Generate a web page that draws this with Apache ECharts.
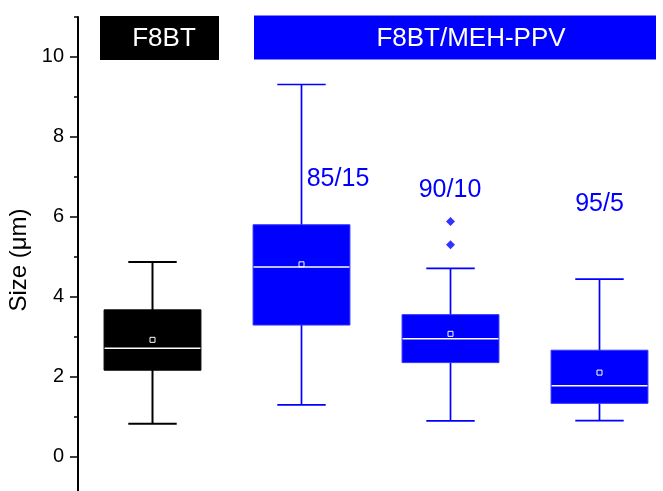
<!DOCTYPE html>
<html>
<head>
<meta charset="utf-8">
<script src="https://cdn.jsdelivr.net/npm/echarts@6/dist/echarts.min.js"></script>
<style>
  html, body { margin: 0; padding: 0; background: #fff; }
  #chart { width: 663px; height: 491px; }
</style>
</head>
<body>
<div id="chart"></div>
<script>
// Particle size distributions: neat F8BT and F8BT/MEH-PPV blends
const categories   = ['F8BT', '85/15', '90/10', '95/5'];
const whiskerLow   = [0.82, 1.29, 0.89, 0.90];
const quartile1    = [2.16, 3.29, 2.35, 1.33];
const medians      = [2.71, 4.74, 2.95, 1.77];
const quartile3    = [3.67, 5.80, 3.55, 2.66];
const whiskerHigh  = [4.87, 9.31, 4.71, 4.44];
const means        = [2.92, 4.81, 3.07, 2.10];
const outlierGroup = [2, 2];
const outlierValue = [5.88, 5.30];
const majorTicks   = [-2, 0, 2, 4, 6, 8, 10];
const minorTicks   = [-1, 1, 3, 5, 7, 9, 11];

const BLACK = '#000000';
const BLUE = '#0000ff';
const FONT = '"Liberation Sans", Arial, sans-serif';
const boxColors = [BLACK, BLUE, BLUE, BLUE];

const boxData = categories.map((c, i) => [
  i, whiskerLow[i], quartile1[i], medians[i], quartile3[i], whiskerHigh[i], means[i]
]);
const outlierData = outlierGroup.map((g, i) => [g, outlierValue[i]]);

function renderBox(params, api) {
  const idx = api.value(0);
  const color = boxColors[params.dataIndex];
  const band = api.size([1, 0])[0];
  const bw = band * 0.65;
  const cx = api.coord([idx, 0])[0];
  const py = v => api.coord([idx, v])[1];
  const yLow = py(api.value(1)), yQ1 = py(api.value(2)), yMed = py(api.value(3));
  const yQ3 = py(api.value(4)), yHigh = py(api.value(5)), yMean = py(api.value(6));
  const capHalf = bw / 4;
  const lineStyle = { stroke: color, lineWidth: color === BLUE ? 1.7 : 2 };
  return {
    type: 'group',
    children: [
      { type: 'line', shape: { x1: cx, y1: yLow, x2: cx, y2: yHigh }, style: lineStyle },
      { type: 'line', shape: { x1: cx - capHalf, y1: yHigh, x2: cx + capHalf, y2: yHigh }, style: lineStyle },
      { type: 'line', shape: { x1: cx - capHalf, y1: yLow, x2: cx + capHalf, y2: yLow }, style: lineStyle },
      { type: 'rect', shape: { x: cx - bw / 2, y: yQ3, width: bw, height: yQ1 - yQ3 },
        style: { fill: color, stroke: color === BLUE ? '#3333ff' : color, lineWidth: 1 } },
      { type: 'line', shape: { x1: cx - bw / 2 + 0.5, y1: yMed, x2: cx + bw / 2 - 0.5, y2: yMed },
        style: { stroke: '#ffffff', lineWidth: 1.5 } },
      { type: 'rect', shape: { x: cx - 2.5, y: yMean - 2.5, width: 5, height: 5 },
        style: { fill: 'none', stroke: '#ffffff', lineWidth: 1 } }
    ]
  };
}

const chart = echarts.init(document.getElementById('chart'), null, { renderer: 'canvas' });

chart.setOption({
  animation: false,
  backgroundColor: '#ffffff',
  grid: { left: 78, top: 17, width: 596, height: 519.4, outerBoundsMode: 'none', containLabel: false },
  xAxis: {
    type: 'category',
    data: categories,
    show: false,
    boundaryGap: true
  },
  yAxis: [
    {
      type: 'value',
      min: -2,
      max: 11,
      interval: 2,
      axisLine: { show: true, lineStyle: { color: '#000', width: 2 } },
      axisTick: { show: true, length: 8, customValues: majorTicks, lineStyle: { color: '#000', width: 1.5 } },
      axisLabel: { show: true, customValues: majorTicks.filter(v => v >= 0), margin: 14,
        fontFamily: FONT, fontSize: 20, color: '#000' },
      splitLine: { show: false },
      minorTick: { show: false }
    },
    {
      type: 'value',
      min: -2,
      max: 11,
      interval: 2,
      position: 'left',
      axisLine: { show: false },
      axisTick: { show: true, length: 4, customValues: minorTicks, lineStyle: { color: '#000', width: 1.5 } },
      axisLabel: { show: false },
      splitLine: { show: false }
    }
  ],
  graphic: [
    { type: 'text', x: 19, y: 260, rotation: Math.PI / 2, z: 11,
      style: { text: 'Size (\u03bcm)', fill: '#000', font: '24px ' + FONT, textAlign: 'center', textVerticalAlign: 'middle' } },
    { type: 'rect', shape: { x: 100, y: 16, width: 119, height: 44 }, style: { fill: BLACK }, z: 10 },
    { type: 'text', x: 164, y: 39, z: 11,
      style: { text: 'F8BT', fill: '#fff', font: '26px ' + FONT, textAlign: 'center', textVerticalAlign: 'middle' } },
    { type: 'rect', shape: { x: 254, y: 15.5, width: 402, height: 44 }, style: { fill: BLUE }, z: 10 },
    { type: 'text', x: 471, y: 38.5, z: 11,
      style: { text: 'F8BT/MEH-PPV', fill: '#fff', font: '26px ' + FONT, textAlign: 'center', textVerticalAlign: 'middle' } },
    { type: 'text', x: 338, y: 179, z: 11,
      style: { text: '85/15', fill: BLUE, font: '25px ' + FONT, textAlign: 'center', textVerticalAlign: 'middle' } },
    { type: 'text', x: 450, y: 190.5, z: 11,
      style: { text: '90/10', fill: BLUE, font: '25px ' + FONT, textAlign: 'center', textVerticalAlign: 'middle' } },
    { type: 'text', x: 599.5, y: 204, z: 11,
      style: { text: '95/5', fill: BLUE, font: '25px ' + FONT, textAlign: 'center', textVerticalAlign: 'middle' } }
  ],
  series: [
    {
      type: 'custom',
      name: 'size',
      renderItem: renderBox,
      encode: { x: 0, y: [1, 2, 3, 4, 5, 6] },
      data: boxData,
      clip: false
    },
    {
      type: 'scatter',
      name: 'outliers',
      symbol: 'diamond',
      symbolSize: 9,
      itemStyle: { color: BLUE },
      data: outlierData
    }
  ]
});
</script>
</body>
</html>
